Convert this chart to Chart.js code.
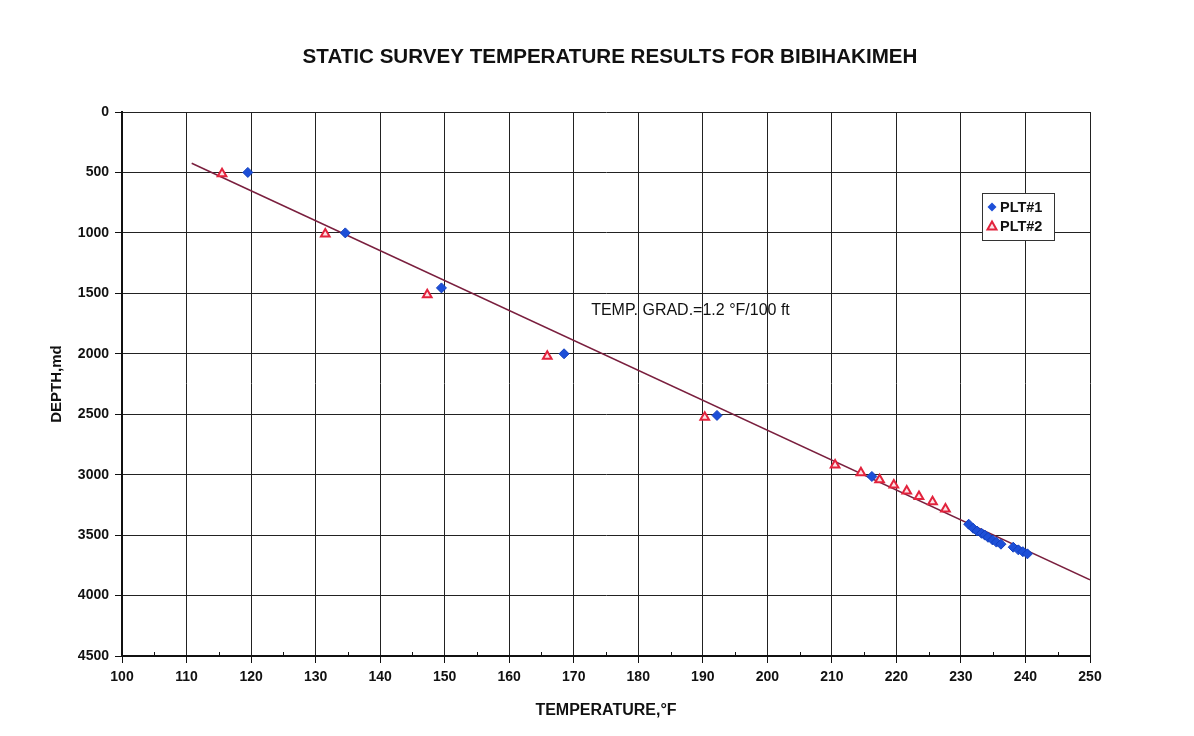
<!DOCTYPE html>
<html>
<head>
<meta charset="utf-8">
<script src="https://cdn.jsdelivr.net/npm/chart.js@4.4.0/dist/chart.umd.min.js"></script>
<style>
html, body { margin: 0; padding: 0; background: #fff; }
#wrap { width: 1194px; height: 736px; }
</style>
</head>
<body>
<div id="wrap"><canvas id="tempChart"></canvas></div>
<script>
// PLT#1 survey (blue diamonds)
var plt1Temp  = [119.5, 134.6, 149.5, 168.5, 192.2, 216.2, 231.2, 231.9, 232.5, 233.2, 233.7, 234.2, 234.9, 235.5, 236.2, 238.1, 238.9, 239.6, 240.3];
var plt1Depth = [500, 1000, 1455, 2000, 2510, 3015, 3410, 3444, 3466, 3485, 3500, 3518, 3540, 3558, 3575, 3600, 3622, 3637, 3655];

// PLT#2 survey (red triangles)
var plt2Temp  = [115.5, 131.5, 147.3, 165.9, 190.3, 210.5, 214.5, 217.4, 219.6, 221.6, 223.5, 225.6, 227.6];
var plt2Depth = [510, 1010, 1512, 2020, 2525, 2920, 2984, 3042, 3085, 3135, 3180, 3225, 3285];

// fitted gradient line
var trendTemp  = [110.8, 250];
var trendDepth = [424, 3870];

var chartTitle = 'STATIC SURVEY TEMPERATURE RESULTS FOR BIBIHAKIMEH';
var gradLabel = 'TEMP. GRAD.=1.2 \u00B0F/100 ft';
var seriesNames = ['PLT#1', 'PLT#2'];

function toPoints(xs, ys) {
  return xs.map(function (x, i) { return { x: x, y: ys[i] }; });
}

var FONT = '"Liberation Sans", Arial, sans-serif';

// title, minor ticks, gradient label and the boxed legend
var extras = {
  id: 'extras',
  afterDraw: function (chart) {
    var c = chart.ctx, xs = chart.scales.x, ys = chart.scales.y, area = chart.chartArea;
    c.save();

    c.fillStyle = '#111';
    c.font = 'bold 20.6px ' + FONT;
    c.textAlign = 'center';
    c.textBaseline = 'middle';
    c.fillText(chartTitle, 610, 57);
    c.textAlign = 'left';

    c.strokeStyle = '#111';
    c.lineWidth = 1;
    for (var t = 105; t < 250; t += 10) {
      var px = Math.round(xs.getPixelForValue(t)) + 0.5;
      c.beginPath();
      c.moveTo(px, area.bottom - 4);
      c.lineTo(px, area.bottom + 1);
      c.stroke();
    }

    c.font = '16px ' + FONT;
    c.fillText(gradLabel, xs.getPixelForValue(172.7), ys.getPixelForValue(1646));

    // legend
    var bx = area.right - 108, by = area.top + 81, bw = 72, bh = 47;
    c.fillStyle = '#fff';
    c.fillRect(bx, by, bw, bh);
    c.strokeStyle = '#333';
    c.strokeRect(bx + 0.5, by + 0.5, bw, bh);

    var mx = bx + 10, y1 = by + 14, y2 = by + 33;
    c.beginPath();
    c.moveTo(mx, y1 - 4.5); c.lineTo(mx + 4.5, y1); c.lineTo(mx, y1 + 4.5); c.lineTo(mx - 4.5, y1);
    c.closePath();
    c.fillStyle = '#1d4fd8';
    c.fill();

    c.beginPath();
    c.moveTo(mx, y2 - 4.5); c.lineTo(mx + 4.5, y2 + 3.5); c.lineTo(mx - 4.5, y2 + 3.5);
    c.closePath();
    c.fillStyle = '#fbe3e6';
    c.fill();
    c.strokeStyle = '#e2233d';
    c.lineWidth = 2;
    c.stroke();

    c.fillStyle = '#111';
    c.font = 'bold 14.5px ' + FONT;
    c.fillText(seriesNames[0], mx + 8, y1 + 1);
    c.fillText(seriesNames[1], mx + 8, y2 + 1);
    c.restore();
  }
};

var ctx = document.getElementById('tempChart');
var chart = new Chart(ctx, {
  type: 'scatter',
  data: {
    datasets: [
      {
        label: seriesNames[0],
        data: toPoints(plt1Temp, plt1Depth),
        pointStyle: 'rectRot',
        pointRadius: 5,
        backgroundColor: '#1d4fd8',
        borderColor: '#1240c0',
        borderWidth: 1,
        order: 1
      },
      {
        label: seriesNames[1],
        data: toPoints(plt2Temp, plt2Depth),
        pointStyle: 'triangle',
        pointRadius: 5,
        backgroundColor: '#fbe3e6',
        borderColor: '#e2233d',
        borderWidth: 2,
        order: 2
      },
      {
        label: 'gradient',
        type: 'line',
        data: toPoints(trendTemp, trendDepth),
        borderColor: '#7a1f3e',
        borderWidth: 1.5,
        pointRadius: 0,
        fill: false,
        order: 3
      }
    ]
  },
  options: {
    responsive: true,
    maintainAspectRatio: false,
    animation: false,
    layout: { padding: { left: 0, right: 104, top: 112, bottom: 0 } },
    plugins: {
      legend: { display: false },
      tooltip: { enabled: false },
      title: { display: false }
    },
    scales: {
      x: {
        type: 'linear',
        min: 100,
        max: 250,
        ticks: {
          stepSize: 10, color: '#111', padding: 6,
          font: { family: FONT, size: 14, weight: 'bold' },
          callback: function (v) { return String(v); }
        },
        grid: { color: '#222', lineWidth: 1, tickLength: 7, tickColor: '#111' },
        border: { color: '#111', width: 2 },
        title: {
          display: true,
          text: 'TEMPERATURE,\u00B0F',
          color: '#111',
          font: { family: FONT, size: 16, weight: 'bold' },
          padding: { top: 0, bottom: 16 }
        },
        afterFit: function (scale) { scale.height = 80; }
      },
      y: {
        type: 'linear',
        reverse: true,
        min: 0,
        max: 4500,
        ticks: {
          stepSize: 500, color: '#111', padding: 6,
          font: { family: FONT, size: 14, weight: 'bold' },
          callback: function (v) { return String(v); }
        },
        grid: { color: '#222', lineWidth: 1, tickLength: 7, tickColor: '#111' },
        border: { color: '#111', width: 2 },
        title: {
          display: true,
          text: 'DEPTH,md',
          color: '#111',
          font: { family: FONT, size: 15, weight: 'bold' },
          padding: { top: 48, bottom: 0 }
        },
        afterFit: function (scale) { scale.width = 122; }
      }
    }
  },
  plugins: [extras]
});
</script>
</body>
</html>
